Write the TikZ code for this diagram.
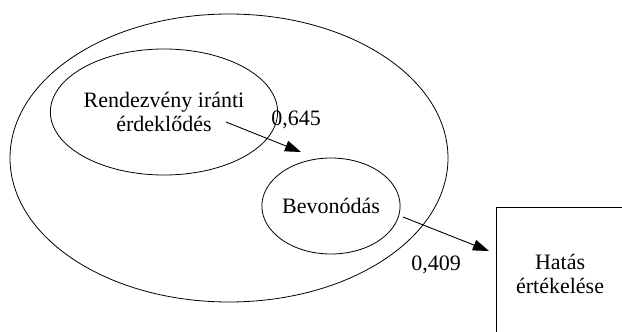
\documentclass[tikz,border=0pt]{standalone}
\usepackage{fontspec}
\setmainfont{Liberation Serif}
\usetikzlibrary{shapes.geometric,arrows.meta}
\tikzset{
  oval/.style={draw, ellipse, line width=0.8pt, inner sep=0pt, align=center},
  lbl/.style={font=\fontsize{22}{24}\selectfont, align=center},
  arr/.style={line width=0.9pt, -{Triangle[length=16pt,width=11pt]}},
  boxnode/.style={draw, line width=1.1pt, rectangle, inner sep=0pt, align=center}
}
\begin{document}
\begin{tikzpicture}[x=1pt,y=-1pt]
\useasboundingbox (0,0) rectangle (622,332);
\clip (0,0) rectangle (622,332);
\fill[white] (0,0) rectangle (622,332);
\node[oval, minimum width=438pt, minimum height=288pt] (outer) at (229,158) {};
\node[oval, lbl, minimum width=206pt, minimum height=126pt] (rend) at (164,112) {Rendezvény iránti\\érdeklődés};
\node[oval, lbl, minimum width=130pt, minimum height=96pt] (bev) at (331,206) {Bevonódás};
\node[boxnode, lbl, minimum width=127pt, minimum height=132pt, anchor=north west] (hatas) at (496,207) {Hatás\\értékelése};
\coordinate (a1s) at (226,122);
\coordinate (a1e) at (301,152);
\coordinate (a2s) at (403,217);
\coordinate (a2e) at (489,251);
\draw[arr] (a1s) -- (a1e);
\draw[arr] (a2s) -- (a2e);
\node[lbl] (v1) at (296,120) {0,645};
\node[lbl] (v2) at (436,265) {0,409};
\end{tikzpicture}
\end{document}
